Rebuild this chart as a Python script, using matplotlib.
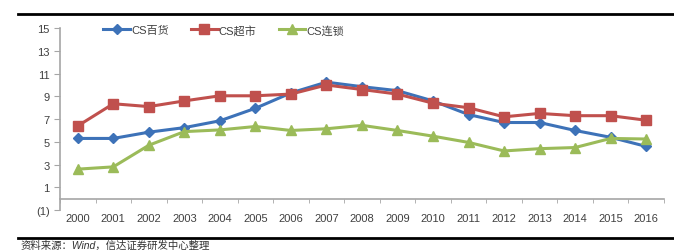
import matplotlib
matplotlib.use('Agg')
import matplotlib.pyplot as plt
from matplotlib.ticker import FuncFormatter
from matplotlib.lines import Line2D

plt.rcParams['font.family'] = ['Liberation Sans', 'Noto Sans CJK SC', 'DejaVu Sans']

years = ['2000', '2001', '2002', '2003', '2004', '2005', '2006', '2007', '2008',
         '2009', '2010', '2011', '2012', '2013', '2014', '2015', '2016']
baihuo = [5.3, 5.3, 5.85, 6.25, 6.85, 7.95, 9.3, 10.25, 9.85, 9.5, 8.6, 7.4, 6.7, 6.7, 6.0, 5.4, 4.6]
chaoshi = [6.4, 8.35, 8.1, 8.6, 9.05, 9.05, 9.2, 10.0, 9.6, 9.2, 8.4, 8.0, 7.2, 7.5, 7.3, 7.3, 6.9]
liansuo = [2.6, 2.8, 4.7, 5.9, 6.05, 6.35, 6.0, 6.15, 6.45, 6.0, 5.5, 4.95, 4.2, 4.4, 4.5, 5.3, 5.25]
labels = ['CS百货', 'CS超市', 'CS连锁']
yticks = [-1, 1, 3, 5, 7, 9, 11, 13, 15]

fig = plt.figure(figsize=(6.74, 2.51), dpi=100)
ax = fig.add_axes([0.089, 0.159, 0.896, 0.725])

x = list(range(len(years)))
ax.plot(x, baihuo, color='#3D72B8', lw=2.2, marker='D', ms=5, label=labels[0])
ax.plot(x, chaoshi, color='#C0504D', lw=2.2, marker='s', ms=7, label=labels[1])
ax.plot(x, liansuo, color='#9BBB59', lw=2.2, marker='^', ms=7, label=labels[2])

ax.set_xlim(-0.5, len(years) - 0.5)
ax.set_ylim(-1, 15)
ax.set_yticks(yticks)
ax.yaxis.set_major_formatter(FuncFormatter(lambda v, p: '(%d)' % abs(v) if v < 0 else '%d' % v))

ax.spines['top'].set_visible(False)
ax.spines['right'].set_visible(False)
ax.spines['bottom'].set_position(('data', 0))
for s in ['left', 'bottom']:
    ax.spines[s].set_color('#A6A6A6')
    ax.spines[s].set_linewidth(1.2)

ax.set_xticks(x, years)
ax.set_xticks([i - 0.5 for i in range(len(years) + 1)], minor=True)
ax.tick_params(axis='x', which='major', length=0, pad=10, labelsize=8, colors='#404040')
ax.tick_params(axis='x', which='minor', length=3, color='#A6A6A6', direction='out')
ax.tick_params(axis='y', length=4, color='#A6A6A6', labelsize=8, labelcolor='#404040')

ax.legend(loc='center left', bbox_to_anchor=(0.055, 0.99), ncol=3, frameon=False,
          fontsize=8, handlelength=2.4, columnspacing=2.0, handletextpad=0.1,
          labelcolor='#404040')

fig.add_artist(Line2D([0.027, 1.0], [1 - 15 / 251, 1 - 15 / 251], color='black', lw=2))
fig.add_artist(Line2D([0.027, 1.0], [1 - 239 / 251, 1 - 239 / 251], color='black', lw=2))
fig.text(0.03, 1 - 245.5 / 251, '资料来源：Wind，信达证券研发中心整理', fontsize=7.5,
         style='italic', va='center', color='#333333')

fig.savefig('out.png', dpi=100)
